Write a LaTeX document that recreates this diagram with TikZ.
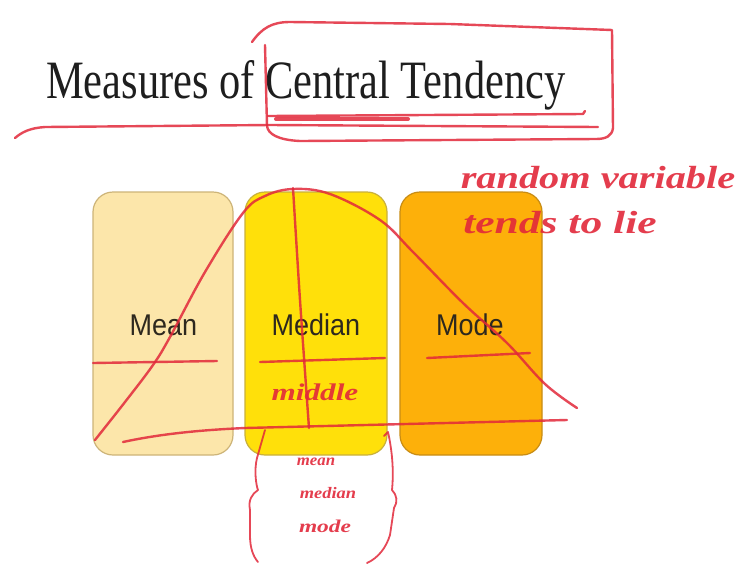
\documentclass[tikz,border=0pt]{standalone}
\usepackage{fontspec}
\setmainfont{Liberation Serif}
\newfontfamily\labelfont{Liberation Sans}
\newfontfamily\handfont{Liberation Serif}
\definecolor{inkred}{RGB}{226,40,58}
\definecolor{meanfill}{RGB}{252,230,170}
\definecolor{meanborder}{RGB}{205,180,120}
\definecolor{medfill}{RGB}{255,224,10}
\definecolor{medborder}{RGB}{200,176,60}
\definecolor{modefill}{RGB}{253,176,10}
\definecolor{modeborder}{RGB}{200,140,20}
\definecolor{titlegray}{RGB}{30,30,30}
\definecolor{labelgray}{RGB}{45,40,30}
\begin{document}
\begin{tikzpicture}[x=1pt,y=-1pt,
  catbox/.style={rounded corners=20pt, line width=1.2pt, minimum height=263pt, inner sep=0pt},
  lbl/.style={font=\labelfont\fontsize{30}{34}\selectfont, text=labelgray, anchor=base, inner sep=0pt},
  ink/.style={draw=inkred, line width=2.4pt, line cap=round, line join=round, opacity=0.85},
  hand/.style={text=inkred, opacity=0.9, inner sep=0pt}]
\useasboundingbox[fill=white] (0,0) rectangle (740,566);

% title
\node[anchor=base west, inner sep=0pt, text=titlegray, font=\fontsize{54}{60}\selectfont] (title) at (46,98) {\scalebox{0.786}[1]{Measures of Central Tendency}};

% boxes
\node[catbox, fill=meanfill, draw=meanborder, minimum width=140pt] (mean) at (163,323.5) {};
\node[catbox, fill=medfill, draw=medborder, minimum width=142pt] (median) at (316,323.5) {};
\node[catbox, fill=modefill, draw=modeborder, minimum width=142pt] (mode) at (471,323.5) {};
\node[lbl] (meanlbl) at (163.5,335) {\scalebox{0.9}[1]{Mean}};
\node[lbl] (medlbl) at (316,335) {\scalebox{0.9}[1]{Median}};
\node[lbl] (modelbl) at (470,335) {\scalebox{0.9}[1]{Mode}};

% red annotations: title box and underlines
\draw[ink] (252,42) .. controls (262,28) and (272,22) .. (290,22) -- (450,24) -- (612,30)
  -- (613,128) .. controls (612,136) and (606,139) .. (596,139) -- (300,141)
  .. controls (278,140) and (268,134) .. (267,126) -- (265,45);
\draw[ink] (15,138) .. controls (22,132) and (30,128) .. (45,127) -- (270,125) -- (598,127);
\draw[ink] (268,116) -- (583,114) -- (585,111);
\draw[ink, line width=4pt] (276,119) -- (408,119);

% distribution curve
\draw[ink] plot[smooth, tension=0.6] coordinates {(95,440) (125,402) (153,365) (170,337) (205,272) (243,213) (265,196) (293,189) (330,194) (380,220) (413,252) (463,303) (507,343) (545,384) (577,408)};
% vertical line at the peak
\draw[ink] plot[smooth] coordinates {(293,188) (300,300) (309,428)};

% horizontal strokes
\draw[ink] (93,363) -- (217,361);
\draw[ink] (260,362) -- (385,358);
\draw[ink] (427,358) -- (530,353);
\draw[ink] (123,442) .. controls (160,434) and (200,430) .. (245,428) -- (567,420);

% brace under median
\draw[ink, line width=1.8pt] (265,430) -- (257,458) .. controls (254,470) and (256,485) .. (258,490)
  .. controls (252,494) and (248,500) .. (250,510) -- (250,535) .. controls (250,548) and (253,556) .. (258,562);
\draw[ink, line width=1.8pt] (384,436) -- (388,432) .. controls (392,450) and (394,470) .. (392,490)
  .. controls (397,495) and (398,502) .. (394,508) -- (390,535) .. controls (386,548) and (378,558) .. (367,563);

% handwriting
\node[hand, font=\handfont\bfseries\itshape\fontsize{32}{34}\selectfont] (rv) at (598,178) {\scalebox{1.26}[1]{random variable}};
\node[hand, font=\handfont\bfseries\itshape\fontsize{32}{34}\selectfont] (tl) at (560,223) {\scalebox{1.36}[1]{tends to lie}};
\node[hand, font=\handfont\bfseries\itshape\fontsize{24}{26}\selectfont] (mid) at (315,392) {\scalebox{1.3}[1]{middle}};
\node[hand, font=\handfont\bfseries\itshape\fontsize{16}{18}\selectfont] (h1) at (316,462) {\scalebox{1.05}[1]{mean}};
\node[hand, font=\handfont\bfseries\itshape\fontsize{16}{18}\selectfont] (h2) at (328,493) {\scalebox{1.15}[1]{median}};
\node[hand, font=\handfont\bfseries\itshape\fontsize{18}{20}\selectfont] (h3) at (325,526) {\scalebox{1.3}[1]{mode}};
\end{tikzpicture}
\end{document}
